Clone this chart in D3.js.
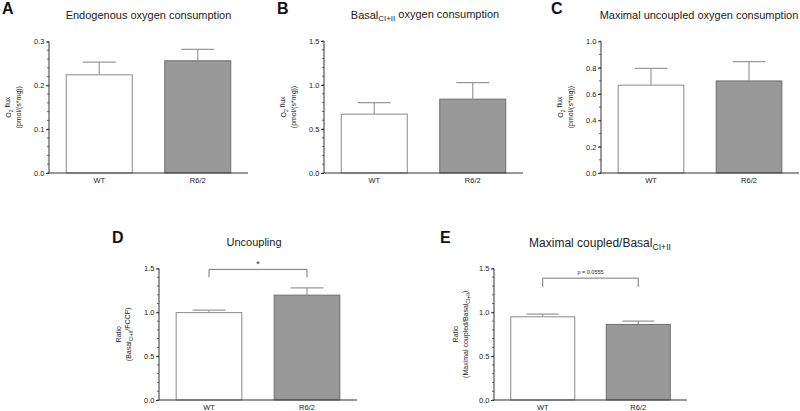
<!DOCTYPE html>
<html><head><meta charset="utf-8">
<script src="https://cdn.jsdelivr.net/npm/d3@7"></script>
<style>body{margin:0;background:#fff}svg{display:block;font-family:"Liberation Sans",Arial,sans-serif}</style>
</head><body>
<svg id="c" width="800" height="411"></svg>
<script>
const categories = ["WT", "R6/2"];
const endogenousMean = [0.224, 0.256];
const endogenousSEM = [0.029, 0.026];
const basalMean = [0.669, 0.839];
const basalSEM = [0.131, 0.189];
const maximalMean = [0.667, 0.699];
const maximalSEM = [0.128, 0.146];
const uncouplingMean = [0.997, 1.196];
const uncouplingSEM = [0.028, 0.084];
const coupledMean = [0.949, 0.862];
const coupledSEM = [0.031, 0.038];
const endogenousTicks = [0, 0.1, 0.2, 0.3];
const basalTicks = [0, 0.5, 1.0, 1.5];
const maximalTicks = [0, 0.2, 0.4, 0.6, 0.8, 1.0];
const ratioTicks = [0, 0.5, 1.0, 1.5];
const uncouplingSig = "*";
const coupledSig = "p = 0.0555";

const svg = d3.select("#c");
const fills = ["#ffffff", "#999999"];
const strokes = ["#8a8a8a", "#6f6f6f"];

function richText(sel, parts, subSize) {
  parts.forEach(p => {
    if (p.sub) {
      sel.append("tspan").attr("font-size", subSize).attr("dy", "0.3em").text(p.t);
    } else {
      const t = sel.append("tspan").text(p.t);
      if (p.after) t.attr("dy", "-0.3em");
    }
  });
}

function panel(cfg) {
  const g = svg.append("g");
  const y = d3.scaleLinear().domain([0, cfg.max]).range([cfg.bottom, cfg.top]);
  const x = d3.scaleBand().domain(categories).range([cfg.x0, cfg.x1]).paddingInner(0.33).paddingOuter(0.175);

  // minor ticks
  const minors = d3.range(0, cfg.max + 1e-9, cfg.minor);
  g.selectAll(".mt").data(minors).join("line")
    .attr("x1", cfg.x0 - 2).attr("x2", cfg.x0)
    .attr("y1", d => y(d)).attr("y2", d => y(d))
    .attr("stroke", "#444").attr("stroke-width", 0.8);

  const ax = g.append("g").attr("transform", `translate(${cfg.x0},0)`)
    .call(d3.axisLeft(y).tickValues(cfg.ticks).tickFormat(d3.format(cfg.fmt)).tickSize(3).tickPadding(1.5));
  ax.select(".domain").attr("stroke", "#333").attr("stroke-width", 1).attr("d", `M0,${cfg.top}V${cfg.bottom}`);
  ax.selectAll(".tick line").attr("stroke", "#333");
  ax.selectAll("text").attr("font-size", 7.5).attr("fill", "#222").attr("font-family", "Liberation Sans, Arial, sans-serif");

  // bars
  g.selectAll(".bar").data(cfg.mean).join("rect")
    .attr("x", (d, i) => x(categories[i]))
    .attr("y", d => y(d))
    .attr("width", x.bandwidth())
    .attr("height", d => y(0) - y(d))
    .attr("fill", (d, i) => fills[i])
    .attr("stroke", (d, i) => strokes[i]).attr("stroke-width", 1);

  // error bars
  cfg.mean.forEach((m, i) => {
    const cx = x(categories[i]) + x.bandwidth() / 2;
    const top = y(m + cfg.sem[i]);
    g.append("line").attr("x1", cx).attr("x2", cx).attr("y1", y(m)).attr("y2", top)
      .attr("stroke", "#9a9a9a").attr("stroke-width", 1.2);
    g.append("line").attr("x1", cx - x.bandwidth() / 4).attr("x2", cx + x.bandwidth() / 4)
      .attr("y1", top).attr("y2", top).attr("stroke", "#9a9a9a").attr("stroke-width", 1.2);
  });

  // x axis
  const xa = g.append("g").attr("transform", `translate(0,${cfg.bottom})`)
    .call(d3.axisBottom(x).tickSize(0).tickPadding(5));
  xa.select(".domain").attr("stroke", "#333").attr("d", `M${cfg.x0},0H${cfg.x1}`);
  xa.selectAll("text").attr("font-size", 7.5).attr("fill", "#222").attr("font-family", "Liberation Sans, Arial, sans-serif");

  // title
  const tt = g.append("text").attr("x", cfg.tx).attr("y", cfg.ty).attr("text-anchor", "middle")
    .attr("font-size", cfg.tsize).attr("fill", "#222");
  richText(tt, cfg.title, cfg.tsize * 0.72);

  // letter
  g.append("text").attr("x", cfg.lx).attr("y", cfg.ly).attr("font-size", 16).attr("font-weight", "bold")
    .attr("fill", "#111").text(cfg.letter);

  // y label
  const ymid = (cfg.top + cfg.bottom) / 2;
  const l1 = g.append("text").attr("transform", `translate(${cfg.x0 - cfg.yl1},${ymid}) rotate(-90)`)
    .attr("text-anchor", "middle").attr("font-size", 7).attr("fill", "#222");
  richText(l1, cfg.ylab1, 5);
  const l2 = g.append("text").attr("transform", `translate(${cfg.x0 - cfg.yl2},${ymid}) rotate(-90)`)
    .attr("text-anchor", "middle").attr("font-size", 7).attr("fill", "#222");
  richText(l2, cfg.ylab2, 5);

  // significance bracket
  if (cfg.sig) {
    const a = x(categories[0]) + x.bandwidth() / 2, b = x(categories[1]) + x.bandwidth() / 2;
    const yb = y(cfg.sig.y), yd = y(cfg.sig.y - cfg.sig.drop);
    g.append("path").attr("d", `M${a},${yd}V${yb}H${b}V${yd}`).attr("fill", "none")
      .attr("stroke", "#777").attr("stroke-width", 1);
    g.append("text").attr("x", (a + b) / 2).attr("y", yb - cfg.sig.off).attr("text-anchor", "middle")
      .attr("font-size", cfg.sig.size).attr("fill", "#222").text(cfg.sig.text);
  }
}

const o2a = [{t: "O"}, {t: "2", sub: true}, {t: " flux", after: true}];
const o2b = [{t: "(pmol/(s*mg))"}];

panel({letter: "A", lx: 2, ly: 14, x0: 49, x1: 248, top: 41.5, bottom: 173, max: 0.3, minor: 0.02,
  ticks: endogenousTicks, fmt: ".1f", mean: endogenousMean, sem: endogenousSEM,
  title: [{t: "Endogenous oxygen consumption"}], tx: 148.5, ty: 19, tsize: 11,
  ylab1: o2a, ylab2: o2b, yl1: 38, yl2: 28});
panel({letter: "B", lx: 277, ly: 14, x0: 324, x1: 523, top: 41, bottom: 173, max: 1.5, minor: 0.1,
  ticks: basalTicks, fmt: ".1f", mean: basalMean, sem: basalSEM,
  title: [{t: "Basal"}, {t: "CI+II", sub: true}, {t: " oxygen consumption", after: true}], tx: 425, ty: 19, tsize: 11,
  ylab1: o2a, ylab2: o2b, yl1: 38, yl2: 28});
panel({letter: "C", lx: 551, ly: 14, x0: 601, x1: 799, top: 41.3, bottom: 173, max: 1.0, minor: 0.1,
  ticks: maximalTicks, fmt: ".1f", mean: maximalMean, sem: maximalSEM,
  title: [{t: "Maximal uncoupled oxygen consumption"}], tx: 699, ty: 19, tsize: 11,
  ylab1: o2a, ylab2: o2b, yl1: 38, yl2: 28});
panel({letter: "D", lx: 112, ly: 243, x0: 159, x1: 357, top: 268.5, bottom: 400, max: 1.5, minor: 0.1,
  ticks: ratioTicks, fmt: ".1f", mean: uncouplingMean, sem: uncouplingSEM,
  title: [{t: "Uncoupling"}], tx: 254, ty: 246, tsize: 11,
  ylab1: [{t: "Ratio"}], ylab2: [{t: "(Basal"}, {t: "CI+II", sub: true}, {t: "/FCCP)", after: true}], yl1: 38, yl2: 28,
  sig: {y: 1.49, drop: 0.09, text: uncouplingSig, off: 2, size: 9}});
panel({letter: "E", lx: 440, ly: 243, x0: 494, x1: 687, top: 268.5, bottom: 400, max: 1.5, minor: 0.1,
  ticks: ratioTicks, fmt: ".1f", mean: coupledMean, sem: coupledSEM,
  title: [{t: "Maximal coupled/Basal"}, {t: "CI+II", sub: true}], tx: 600, ty: 247, tsize: 12,
  ylab1: [{t: "Ratio"}], ylab2: [{t: "(Maximal coupled/Basal"}, {t: "CI+II", sub: true}, {t: ")", after: true}], yl1: 36, yl2: 26,
  sig: {y: 1.39, drop: 0.1, text: coupledSig, off: 4, size: 5.5}});
</script>
</body></html>
